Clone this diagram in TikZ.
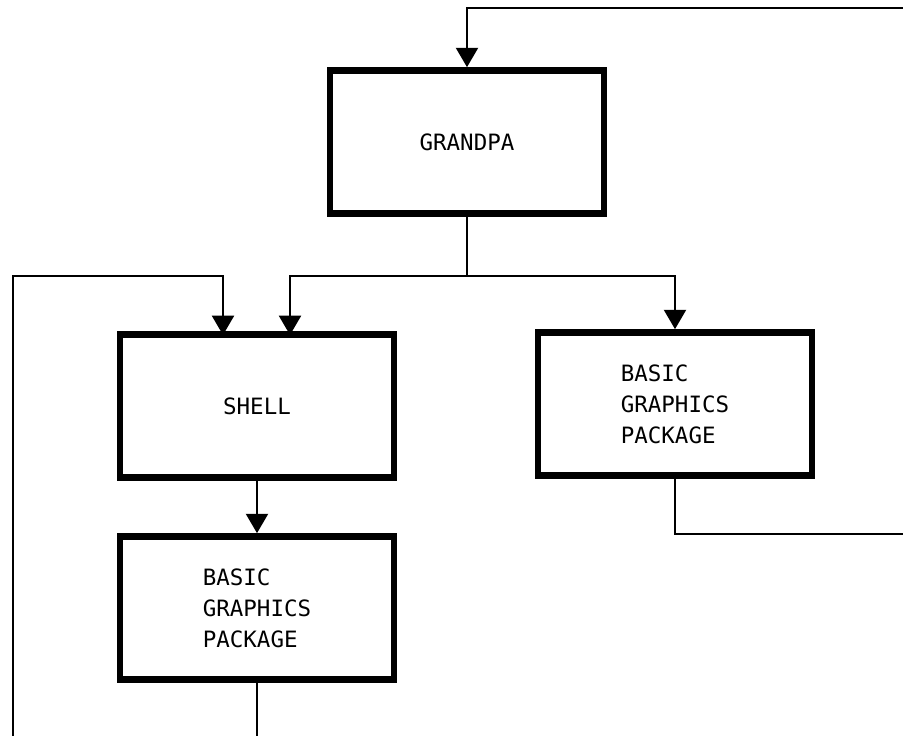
\documentclass[tikz,border=0pt]{standalone}
\usepackage{fontspec}
\setmonofont{DejaVu Sans Mono}
\usetikzlibrary{arrows.meta}
\begin{document}
\begin{tikzpicture}[
       line width=1.3pt,
       bloc/.style={
         rectangle,
         draw,
         line width=3.8pt,
         minimum width=5.48cm,
         minimum height=2.86cm,
         align=left,
         font=\ttfamily\fontsize{12.8}{17.6}\selectfont
       },
       fleche/.style={
         -{Triangle[length=11pt,width=12.5pt]}
       }
     ]
       \useasboundingbox (0,0) rectangle (18.06,-14.72);

       \node (grandpa) at (9.34,-2.84) [bloc]{GRANDPA};
       \node (shell) at (5.14,-8.12) [bloc]{SHELL};
       \node (bgpd) at (13.5,-8.08) [bloc]{BASIC\\GRAPHICS\\PACKAGE};
       \node (bgp) at (5.14,-12.16) [bloc]{BASIC\\GRAPHICS\\PACKAGE};

       \coordinate (retour) at (18.06,-0.16);
       \coordinate (fourche) at (9.34,-5.52);
       \coordinate (shellg) at (4.46,-6.7);
       \coordinate (shelld) at (5.80,-6.7);
       \coordinate (boucle) at (0.26,-14.72);
       \coordinate (bas) at (5.14,-14.72);
       \coordinate (sortie) at (18.06,-10.68);

       \draw [fleche] (retour) -| (grandpa.north);
       \draw (grandpa.south) -- (fourche);
       \draw [fleche] (fourche) -| (shelld);
       \draw [fleche] (fourche) -| (bgpd.north);
       \draw [fleche] (boucle) |- (fourche -| shellg) -- (shellg);
       \draw [fleche] (shell.south) -- (bgp.north);
       \draw (bgp.south) -- (bas);
       \draw (bgpd.south) |- (sortie);

\end{tikzpicture}
\end{document}
